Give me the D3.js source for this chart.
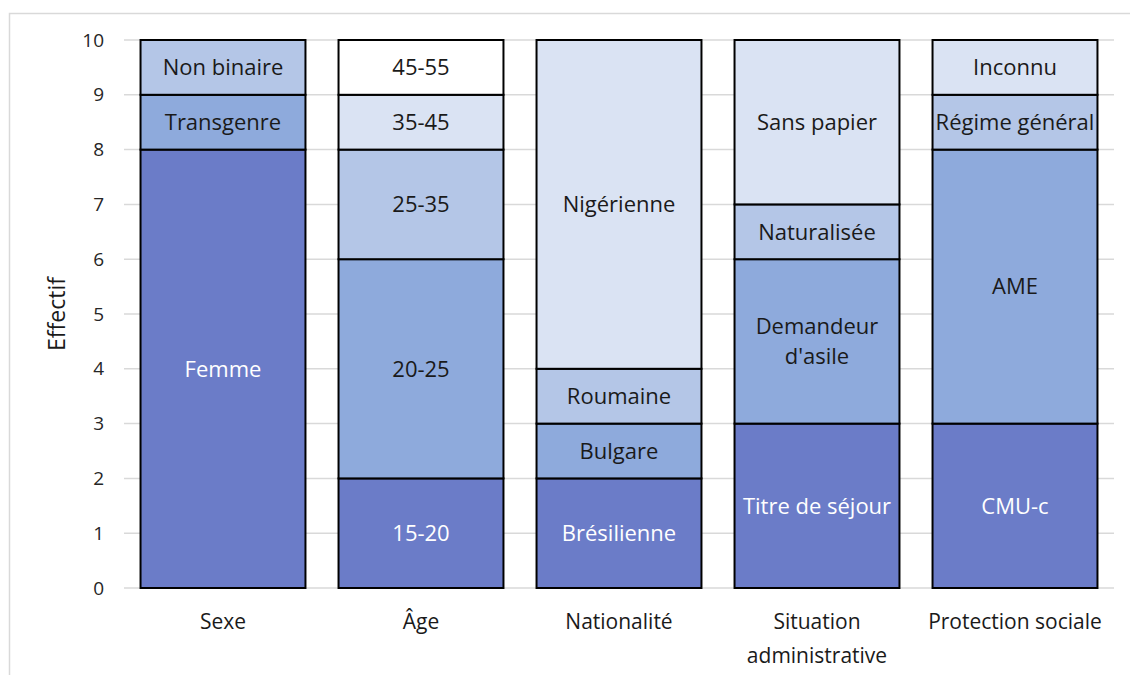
<!DOCTYPE html>
<html>
<head>
<meta charset="utf-8">
<script src="https://cdn.jsdelivr.net/npm/d3@7"></script>
<style>
  body { margin: 0; background: #fff; }
  text { font-family: "Open Sans", Lato, sans-serif; }
</style>
</head>
<body>
<div id="chart"></div>
<script>
// categories on the x axis
var categories = ["Sexe", "Âge", "Nationalité", "Situation administrative", "Protection sociale"];

// segments of each bar, bottom to top
var sexeLabels = ["Femme", "Transgenre", "Non binaire"];
var sexeValues = [8, 1, 1];
var ageLabels = ["15-20", "20-25", "25-35", "35-45", "45-55"];
var ageValues = [2, 4, 2, 1, 1];
var natLabels = ["Brésilienne", "Bulgare", "Roumaine", "Nigérienne"];
var natValues = [2, 1, 1, 6];
var sitLabels = ["Titre de séjour", "Demandeur d'asile", "Naturalisée", "Sans papier"];
var sitValues = [3, 3, 1, 3];
var protLabels = ["CMU-c", "AME", "Régime général", "Inconnu"];
var protValues = [3, 5, 1, 1];

var yTicks = [0, 1, 2, 3, 4, 5, 6, 7, 8, 9, 10];

var palette = ["#6B7CC8", "#8EAADC", "#B4C6E7", "#DAE3F3", "#FFFFFF"];
var textColors = ["#ffffff", "#1a1a1a", "#1a1a1a", "#1a1a1a", "#1a1a1a"];

var w = 1130, h = 675;
var svg = d3.select("#chart").append("svg").attr("width", w).attr("height", h);

// outer frame
svg.append("rect")
    .attr("x", 9.5).attr("y", 13.5)
    .attr("width", w + 20).attr("height", h + 20)
    .attr("fill", "none").attr("stroke", "#d9d9d9").attr("stroke-width", 1.5);

var x = d3.scaleBand().domain(categories).range([124, 1114])
    .paddingInner(0.167).paddingOuter(0.0835);
var y = d3.scaleLinear().domain([0, 10]).range([588, 40]);

// gridlines
svg.append("g").selectAll("line")
    .data(yTicks)
    .enter().append("line")
    .attr("x1", 124).attr("x2", 1114)
    .attr("y1", function (d) { return y(d); })
    .attr("y2", function (d) { return y(d); })
    .attr("stroke", "#d9d9d9").attr("stroke-width", 1.5);

// y tick labels
svg.append("g").selectAll("text")
    .data(yTicks)
    .enter().append("text")
    .attr("x", 104)
    .attr("y", function (d) { return y(d); })
    .attr("dy", "0.35em")
    .attr("text-anchor", "end")
    .attr("font-size", 19)
    .attr("fill", "#262626")
    .text(function (d) { return d; });

// y title
svg.append("text")
    .attr("transform", "translate(65," + y(5) + ") rotate(-90)")
    .attr("text-anchor", "middle")
    .attr("font-size", 23)
    .attr("fill", "#1a1a1a")
    .text("Effectif");

var groups = [
    [sexeLabels, sexeValues],
    [ageLabels, ageValues],
    [natLabels, natValues],
    [sitLabels, sitValues],
    [protLabels, protValues]
];

var segs = [];
groups.forEach(function (g, i) {
    var base = 0;
    g[1].forEach(function (v, j) {
        segs.push({ cat: categories[i], label: g[0][j], y0: base, y1: base + v, idx: j });
        base += v;
    });
});

var bars = svg.append("g");
bars.selectAll("rect")
    .data(segs)
    .enter().append("rect")
    .attr("x", function (d) { return x(d.cat); })
    .attr("width", x.bandwidth())
    .attr("y", function (d) { return y(d.y1); })
    .attr("height", function (d) { return y(d.y0) - y(d.y1); })
    .attr("fill", function (d) { return palette[d.idx]; })
    .attr("stroke", "#000").attr("stroke-width", 2);

// segment labels, split long ones over two lines when needed
bars.selectAll("text")
    .data(segs)
    .enter().append("text")
    .attr("x", function (d) { return x(d.cat) + x.bandwidth() / 2; })
    .attr("y", function (d) { return y((d.y0 + d.y1) / 2); })
    .attr("text-anchor", "middle")
    .attr("font-size", 22)
    .attr("fill", function (d) { return textColors[d.idx]; })
    .each(function (d) {
        var t = d3.select(this);
        var lines = d.label === "Demandeur d'asile" ? ["Demandeur", "d'asile"] : [d.label];
        lines.forEach(function (l, k) {
            t.append("tspan")
                .attr("x", x(d.cat) + x.bandwidth() / 2)
                .attr("dy", k === 0 ? (0.35 - (lines.length - 1) * 0.68) + "em" : "1.36em")
                .text(l);
        });
    });

// category labels
svg.append("g").selectAll("text")
    .data(categories)
    .enter().append("text")
    .attr("x", function (d) { return x(d) + x.bandwidth() / 2; })
    .attr("y", 629)
    .attr("text-anchor", "middle")
    .attr("font-size", 21)
    .attr("fill", "#1a1a1a")
    .each(function (d) {
        var t = d3.select(this);
        var lines = d === "Situation administrative" ? ["Situation", "administrative"] : [d];
        lines.forEach(function (l, k) {
            t.append("tspan")
                .attr("x", x(d) + x.bandwidth() / 2)
                .attr("dy", k === 0 ? 0 : "1.6em")
                .text(l);
        });
    });
</script>
</body>
</html>
